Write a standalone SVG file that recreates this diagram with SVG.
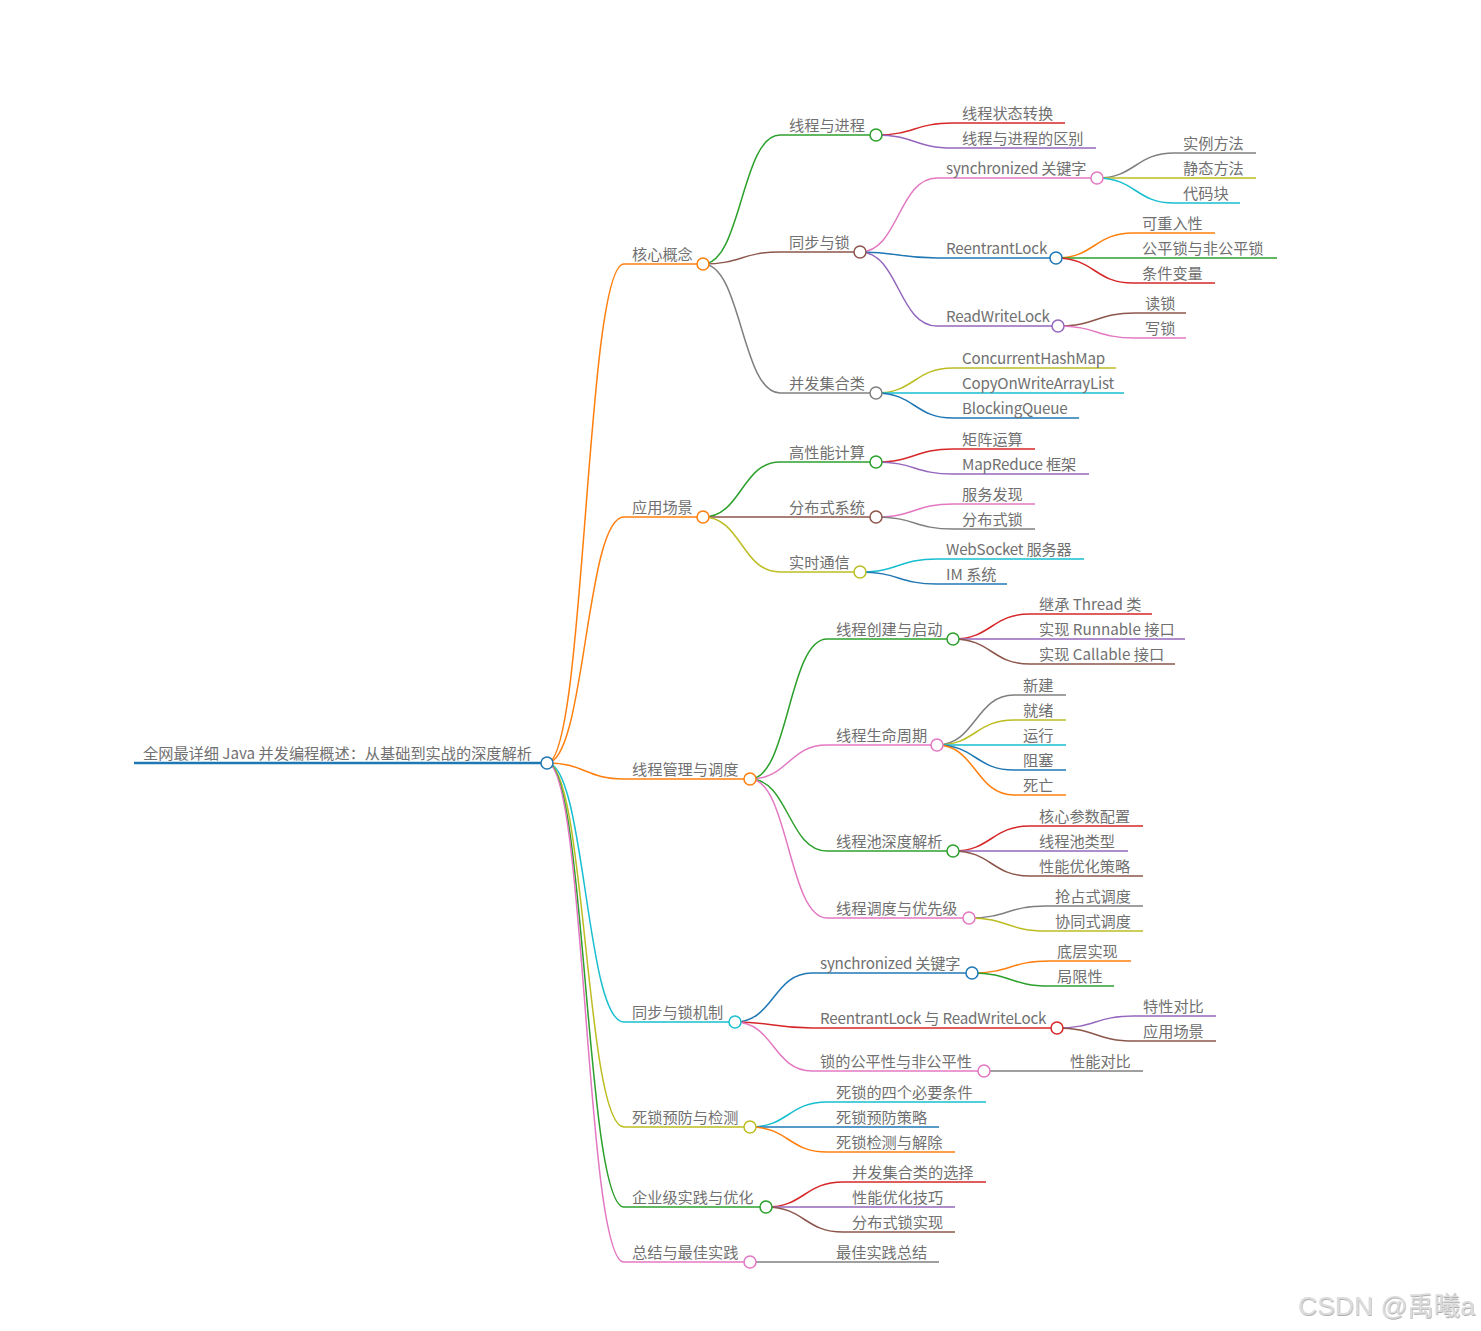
<svg xmlns="http://www.w3.org/2000/svg" width="1481" height="1331" viewBox="0 0 1481 1331">
<style>
text{font-family:"Noto Sans CJK SC","Liberation Sans",sans-serif;font-size:15.2px;fill:#707070}
path,line{fill:none;stroke-width:1.5}
circle{fill:#fff;stroke-width:1.5}
.blue{stroke:#1f77b4}.orange{stroke:#ff7f0e}.green{stroke:#2ca02c}.red{stroke:#d62728}.purple{stroke:#9467bd}
.brown{stroke:#8c564b}.pink{stroke:#e377c2}.gray{stroke:#7f7f7f}.olive{stroke:#bcbd22}.cyan{stroke:#17becf}
.lat{letter-spacing:-0.2px}
.wm{font-family:"Liberation Sans","Noto Sans CJK SC",sans-serif;font-size:26.5px;fill:#dcdcdc}
</style>
<defs>
<filter id="sh" x="-5%" y="-20%" width="110%" height="150%"><feDropShadow dx="0.6" dy="1" stdDeviation="0.6" flood-color="#9a9a9a" flood-opacity="0.8"/></filter>
</defs>
<g id="connectors">
<path class="orange" d="M547,763 C585.5,763 585.5,264 624,264"/>
<path class="orange" d="M547,763 C585.5,763 585.5,517 624,517"/>
<path class="orange" d="M547,763 C585.5,763 585.5,779 624,779"/>
<path class="cyan" d="M547,763 C585.5,763 585.5,1022 624,1022"/>
<path class="olive" d="M547,763 C585.5,763 585.5,1127 624,1127"/>
<path class="green" d="M547,763 C585.5,763 585.5,1207 624,1207"/>
<path class="pink" d="M547,763 C585.5,763 585.5,1262 624,1262"/>
<path class="green" d="M703,264 C741.5,264 741.5,135 780,135"/>
<path class="brown" d="M703,264 C741.5,264 741.5,252 780,252"/>
<path class="gray" d="M703,264 C741.5,264 741.5,393 780,393"/>
<path class="green" d="M703,517 C741.5,517 741.5,462 780,462"/>
<path class="brown" d="M703,517 C741.5,517 741.5,517 780,517"/>
<path class="olive" d="M703,517 C741.5,517 741.5,572 780,572"/>
<path class="green" d="M750,779 C788.5,779 788.5,639 827,639"/>
<path class="pink" d="M750,779 C788.5,779 788.5,745 827,745"/>
<path class="green" d="M750,779 C788.5,779 788.5,851 827,851"/>
<path class="pink" d="M750,779 C788.5,779 788.5,918 827,918"/>
<path class="blue" d="M735,1022 C773.5,1022 773.5,973 812,973"/>
<path class="red" d="M735,1022 C773.5,1022 773.5,1028 812,1028"/>
<path class="pink" d="M735,1022 C773.5,1022 773.5,1071 812,1071"/>
<path class="cyan" d="M750,1127 C788.5,1127 788.5,1102 827,1102"/>
<path class="blue" d="M750,1127 C788.5,1127 788.5,1127 827,1127"/>
<path class="orange" d="M750,1127 C788.5,1127 788.5,1152 827,1152"/>
<path class="red" d="M766,1207 C804.5,1207 804.5,1182 843,1182"/>
<path class="purple" d="M766,1207 C804.5,1207 804.5,1207 843,1207"/>
<path class="brown" d="M766,1207 C804.5,1207 804.5,1232 843,1232"/>
<path class="gray" d="M750,1262 C788.5,1262 788.5,1262 827,1262"/>
<path class="red" d="M876,135 C914.5,135 914.5,123 953,123"/>
<path class="purple" d="M876,135 C914.5,135 914.5,148 953,148"/>
<path class="pink" d="M860,252 C898.5,252 898.5,178 937,178"/>
<path class="blue" d="M860,252 C898.5,252 898.5,258 937,258"/>
<path class="purple" d="M860,252 C898.5,252 898.5,326 937,326"/>
<path class="olive" d="M876,393 C914.5,393 914.5,368 953,368"/>
<path class="cyan" d="M876,393 C914.5,393 914.5,393 953,393"/>
<path class="blue" d="M876,393 C914.5,393 914.5,418 953,418"/>
<path class="gray" d="M1097,178 C1135.5,178 1135.5,153 1174,153"/>
<path class="olive" d="M1097,178 C1135.5,178 1135.5,178 1174,178"/>
<path class="cyan" d="M1097,178 C1135.5,178 1135.5,203 1174,203"/>
<path class="orange" d="M1056,258 C1094.5,258 1094.5,233 1133,233"/>
<path class="green" d="M1056,258 C1094.5,258 1094.5,258 1133,258"/>
<path class="red" d="M1056,258 C1094.5,258 1094.5,283 1133,283"/>
<path class="brown" d="M1058,326 C1096.5,326 1096.5,313 1135,313"/>
<path class="pink" d="M1058,326 C1096.5,326 1096.5,338 1135,338"/>
<path class="red" d="M876,462 C914.5,462 914.5,449 953,449"/>
<path class="purple" d="M876,462 C914.5,462 914.5,474 953,474"/>
<path class="pink" d="M876,517 C914.5,517 914.5,504 953,504"/>
<path class="gray" d="M876,517 C914.5,517 914.5,529 953,529"/>
<path class="cyan" d="M860,572 C898.5,572 898.5,559 937,559"/>
<path class="blue" d="M860,572 C898.5,572 898.5,584 937,584"/>
<path class="red" d="M953,639 C991.5,639 991.5,614 1030,614"/>
<path class="purple" d="M953,639 C991.5,639 991.5,639 1030,639"/>
<path class="brown" d="M953,639 C991.5,639 991.5,664 1030,664"/>
<path class="gray" d="M937,745 C975.5,745 975.5,695 1014,695"/>
<path class="olive" d="M937,745 C975.5,745 975.5,720 1014,720"/>
<path class="cyan" d="M937,745 C975.5,745 975.5,745 1014,745"/>
<path class="blue" d="M937,745 C975.5,745 975.5,770 1014,770"/>
<path class="orange" d="M937,745 C975.5,745 975.5,795 1014,795"/>
<path class="red" d="M953,851 C991.5,851 991.5,826 1030,826"/>
<path class="purple" d="M953,851 C991.5,851 991.5,851 1030,851"/>
<path class="brown" d="M953,851 C991.5,851 991.5,876 1030,876"/>
<path class="gray" d="M969,918 C1007.5,918 1007.5,906 1046,906"/>
<path class="olive" d="M969,918 C1007.5,918 1007.5,931 1046,931"/>
<path class="orange" d="M972,973 C1010.5,973 1010.5,961 1049,961"/>
<path class="green" d="M972,973 C1010.5,973 1010.5,986 1049,986"/>
<path class="purple" d="M1057,1028 C1095.5,1028 1095.5,1016 1134,1016"/>
<path class="brown" d="M1057,1028 C1095.5,1028 1095.5,1041 1134,1041"/>
<path class="gray" d="M984,1071 C1022.5,1071 1022.5,1071 1061,1071"/>
</g>
<g id="root"><line class="blue" x1="134" y1="763" x2="547" y2="763" style="stroke-width:2.5"/><circle class="blue" cx="547" cy="763" r="6"/><text x="143" y="759">全网最详细 Java 并发编程概述：从基础到实战的深度解析</text></g>
<g id="n-hxgn"><line class="orange" x1="624" y1="264" x2="703" y2="264"/><circle class="orange" cx="703" cy="264" r="6"/><text x="632" y="260">核心概念</text></g>
<g id="n-xcyjc"><line class="green" x1="780" y1="135" x2="876" y2="135"/><circle class="green" cx="876" cy="135" r="6"/><text x="789" y="131">线程与进程</text></g>
<g id="n-xcztzh"><line class="red" x1="953" y1="123" x2="1065" y2="123"/><text x="962" y="119">线程状态转换</text></g>
<g id="n-xcyjcqb"><line class="purple" x1="953" y1="148" x2="1096" y2="148"/><text x="962" y="144">线程与进程的区别</text></g>
<g id="n-tbys"><line class="brown" x1="780" y1="252" x2="860" y2="252"/><circle class="brown" cx="860" cy="252" r="6"/><text x="789" y="248">同步与锁</text></g>
<g id="n-sync1"><line class="pink" x1="937" y1="178" x2="1097" y2="178"/><circle class="pink" cx="1097" cy="178" r="6"/><text class="lat" x="946" y="174">synchronized 关键字</text></g>
<g id="n-slff"><line class="gray" x1="1174" y1="153" x2="1256" y2="153"/><text x="1183" y="149">实例方法</text></g>
<g id="n-jtff"><line class="olive" x1="1174" y1="178" x2="1256" y2="178"/><text x="1183" y="174">静态方法</text></g>
<g id="n-dmk"><line class="cyan" x1="1174" y1="203" x2="1240" y2="203"/><text x="1183" y="199">代码块</text></g>
<g id="n-rl1"><line class="blue" x1="937" y1="258" x2="1056" y2="258"/><circle class="blue" cx="1056" cy="258" r="6"/><text class="lat" x="946" y="254">ReentrantLock</text></g>
<g id="n-kcrx"><line class="orange" x1="1133" y1="233" x2="1215" y2="233"/><text x="1142" y="229">可重入性</text></g>
<g id="n-gps"><line class="green" x1="1133" y1="258" x2="1277" y2="258"/><text x="1142" y="254">公平锁与非公平锁</text></g>
<g id="n-tjbl"><line class="red" x1="1133" y1="283" x2="1215" y2="283"/><text x="1142" y="279">条件变量</text></g>
<g id="n-rwl1"><line class="purple" x1="937" y1="326" x2="1058" y2="326"/><circle class="purple" cx="1058" cy="326" r="6"/><text class="lat" x="946" y="322">ReadWriteLock</text></g>
<g id="n-ds"><line class="brown" x1="1135" y1="313" x2="1186" y2="313"/><text x="1145" y="309">读锁</text></g>
<g id="n-xs"><line class="pink" x1="1135" y1="338" x2="1186" y2="338"/><text x="1145" y="334">写锁</text></g>
<g id="n-bfjhl"><line class="gray" x1="780" y1="393" x2="876" y2="393"/><circle class="gray" cx="876" cy="393" r="6"/><text x="789" y="389">并发集合类</text></g>
<g id="n-chm"><line class="olive" x1="953" y1="368" x2="1116" y2="368"/><text class="lat" x="962" y="364">ConcurrentHashMap</text></g>
<g id="n-cow"><line class="cyan" x1="953" y1="393" x2="1124" y2="393"/><text class="lat" x="962" y="389">CopyOnWriteArrayList</text></g>
<g id="n-bq"><line class="blue" x1="953" y1="418" x2="1079" y2="418"/><text class="lat" x="962" y="414">BlockingQueue</text></g>
<g id="n-yycj"><line class="orange" x1="624" y1="517" x2="703" y2="517"/><circle class="orange" cx="703" cy="517" r="6"/><text x="632" y="513">应用场景</text></g>
<g id="n-gxnjs"><line class="green" x1="780" y1="462" x2="876" y2="462"/><circle class="green" cx="876" cy="462" r="6"/><text x="789" y="458">高性能计算</text></g>
<g id="n-jzys"><line class="red" x1="953" y1="449" x2="1035" y2="449"/><text x="962" y="445">矩阵运算</text></g>
<g id="n-mr"><line class="purple" x1="953" y1="474" x2="1089" y2="474"/><text class="lat" x="962" y="470">MapReduce 框架</text></g>
<g id="n-fbsxt"><line class="brown" x1="780" y1="517" x2="876" y2="517"/><circle class="brown" cx="876" cy="517" r="6"/><text x="789" y="513">分布式系统</text></g>
<g id="n-fwfx"><line class="pink" x1="953" y1="504" x2="1035" y2="504"/><text x="962" y="500">服务发现</text></g>
<g id="n-fbss"><line class="gray" x1="953" y1="529" x2="1035" y2="529"/><text x="962" y="525">分布式锁</text></g>
<g id="n-sstx"><line class="olive" x1="780" y1="572" x2="860" y2="572"/><circle class="olive" cx="860" cy="572" r="6"/><text x="789" y="568">实时通信</text></g>
<g id="n-ws"><line class="cyan" x1="937" y1="559" x2="1084" y2="559"/><text class="lat" x="946" y="555">WebSocket 服务器</text></g>
<g id="n-im"><line class="blue" x1="937" y1="584" x2="1007" y2="584"/><text x="946" y="580">IM 系统</text></g>
<g id="n-xcgl"><line class="orange" x1="624" y1="779" x2="750" y2="779"/><circle class="orange" cx="750" cy="779" r="6"/><text x="632" y="775">线程管理与调度</text></g>
<g id="n-xccj"><line class="green" x1="827" y1="639" x2="953" y2="639"/><circle class="green" cx="953" cy="639" r="6"/><text x="836" y="635">线程创建与启动</text></g>
<g id="n-jcthread"><line class="red" x1="1030" y1="614" x2="1152" y2="614"/><text x="1039" y="610">继承 Thread 类</text></g>
<g id="n-runnable"><line class="purple" x1="1030" y1="639" x2="1185" y2="639"/><text x="1039" y="635">实现 Runnable 接口</text></g>
<g id="n-callable"><line class="brown" x1="1030" y1="664" x2="1175" y2="664"/><text x="1039" y="660">实现 Callable 接口</text></g>
<g id="n-smzq"><line class="pink" x1="827" y1="745" x2="937" y2="745"/><circle class="pink" cx="937" cy="745" r="6"/><text x="836" y="741">线程生命周期</text></g>
<g id="n-xj"><line class="gray" x1="1014" y1="695" x2="1066" y2="695"/><text x="1023" y="691">新建</text></g>
<g id="n-jx"><line class="olive" x1="1014" y1="720" x2="1066" y2="720"/><text x="1023" y="716">就绪</text></g>
<g id="n-yx"><line class="cyan" x1="1014" y1="745" x2="1066" y2="745"/><text x="1023" y="741">运行</text></g>
<g id="n-zs"><line class="blue" x1="1014" y1="770" x2="1066" y2="770"/><text x="1023" y="766">阻塞</text></g>
<g id="n-sw"><line class="orange" x1="1014" y1="795" x2="1066" y2="795"/><text x="1023" y="791">死亡</text></g>
<g id="n-xcc"><line class="green" x1="827" y1="851" x2="953" y2="851"/><circle class="green" cx="953" cy="851" r="6"/><text x="836" y="847">线程池深度解析</text></g>
<g id="n-hxcs"><line class="red" x1="1030" y1="826" x2="1143" y2="826"/><text x="1039" y="822">核心参数配置</text></g>
<g id="n-xcclx"><line class="purple" x1="1030" y1="851" x2="1128" y2="851"/><text x="1039" y="847">线程池类型</text></g>
<g id="n-xnyhcl"><line class="brown" x1="1030" y1="876" x2="1143" y2="876"/><text x="1039" y="872">性能优化策略</text></g>
<g id="n-xcdd"><line class="pink" x1="827" y1="918" x2="969" y2="918"/><circle class="pink" cx="969" cy="918" r="6"/><text x="836" y="914">线程调度与优先级</text></g>
<g id="n-qzs"><line class="gray" x1="1046" y1="906" x2="1143" y2="906"/><text x="1055" y="902">抢占式调度</text></g>
<g id="n-xts"><line class="olive" x1="1046" y1="931" x2="1143" y2="931"/><text x="1055" y="927">协同式调度</text></g>
<g id="n-tbsjz"><line class="cyan" x1="624" y1="1022" x2="735" y2="1022"/><circle class="cyan" cx="735" cy="1022" r="6"/><text x="632" y="1018">同步与锁机制</text></g>
<g id="n-sync2"><line class="blue" x1="812" y1="973" x2="972" y2="973"/><circle class="blue" cx="972" cy="973" r="6"/><text class="lat" x="820" y="969">synchronized 关键字</text></g>
<g id="n-dcsx"><line class="orange" x1="1049" y1="961" x2="1131" y2="961"/><text x="1057" y="957">底层实现</text></g>
<g id="n-jxx"><line class="green" x1="1049" y1="986" x2="1114" y2="986"/><text x="1057" y="982">局限性</text></g>
<g id="n-rlrwl"><line class="red" x1="812" y1="1028" x2="1057" y2="1028"/><circle class="red" cx="1057" cy="1028" r="6"/><text class="lat" x="820" y="1024">ReentrantLock 与 ReadWriteLock</text></g>
<g id="n-txdb"><line class="purple" x1="1134" y1="1016" x2="1216" y2="1016"/><text x="1143" y="1012">特性对比</text></g>
<g id="n-yycj2"><line class="brown" x1="1134" y1="1041" x2="1216" y2="1041"/><text x="1143" y="1037">应用场景</text></g>
<g id="n-gpx"><line class="pink" x1="812" y1="1071" x2="984" y2="1071"/><circle class="pink" cx="984" cy="1071" r="6"/><text x="820" y="1067">锁的公平性与非公平性</text></g>
<g id="n-xndb"><line class="gray" x1="1061" y1="1071" x2="1143" y2="1071"/><text x="1070" y="1067">性能对比</text></g>
<g id="n-sszfjc"><line class="olive" x1="624" y1="1127" x2="750" y2="1127"/><circle class="olive" cx="750" cy="1127" r="6"/><text x="632" y="1123">死锁预防与检测</text></g>
<g id="n-sgbytj"><line class="cyan" x1="827" y1="1102" x2="986" y2="1102"/><text x="836" y="1098">死锁的四个必要条件</text></g>
<g id="n-ssyfcl"><line class="blue" x1="827" y1="1127" x2="939" y2="1127"/><text x="836" y="1123">死锁预防策略</text></g>
<g id="n-ssjcjc"><line class="orange" x1="827" y1="1152" x2="955" y2="1152"/><text x="836" y="1148">死锁检测与解除</text></g>
<g id="n-qyj"><line class="green" x1="624" y1="1207" x2="766" y2="1207"/><circle class="green" cx="766" cy="1207" r="6"/><text x="632" y="1203">企业级实践与优化</text></g>
<g id="n-bfjhxz"><line class="red" x1="843" y1="1182" x2="986" y2="1182"/><text x="852" y="1178">并发集合类的选择</text></g>
<g id="n-xnyhjq"><line class="purple" x1="843" y1="1207" x2="955" y2="1207"/><text x="852" y="1203">性能优化技巧</text></g>
<g id="n-fbssx"><line class="brown" x1="843" y1="1232" x2="955" y2="1232"/><text x="852" y="1228">分布式锁实现</text></g>
<g id="n-zj"><line class="pink" x1="624" y1="1262" x2="750" y2="1262"/><circle class="pink" cx="750" cy="1262" r="6"/><text x="632" y="1258">总结与最佳实践</text></g>
<g id="n-zjsjzj"><line class="gray" x1="827" y1="1262" x2="939" y2="1262"/><text x="836" y="1258">最佳实践总结</text></g>
<text class="wm" x="1298" y="1315" filter="url(#sh)">CSDN @禹曦a</text>
</svg>
